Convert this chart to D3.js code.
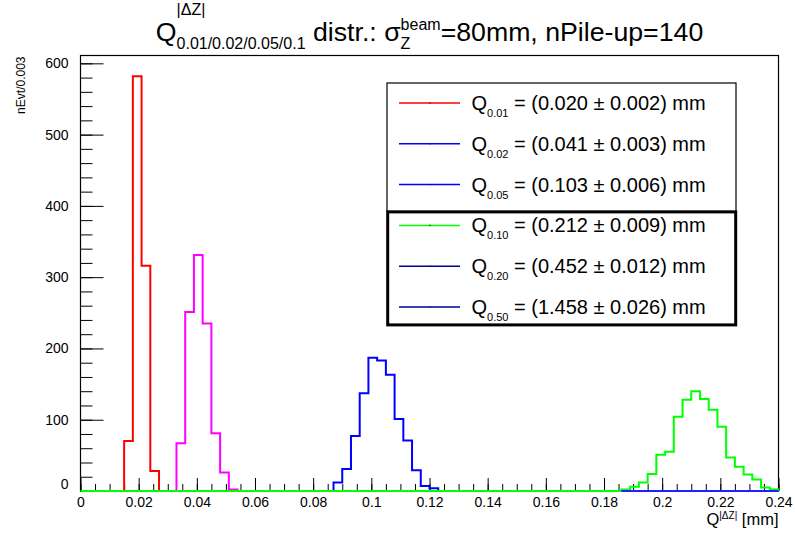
<!DOCTYPE html>
<html>
<head>
<meta charset="utf-8">
<script src="https://cdn.jsdelivr.net/npm/d3@7/dist/d3.min.js"></script>
<style>
  html, body { margin: 0; padding: 0; background: #fff; }
  svg { display: block; font-family: "Liberation Sans", Arial, Helvetica, sans-serif; }
  text { white-space: pre; }
</style>
</head>
<body>
<svg id="chart" width="795" height="534"></svg>
<script>
// ---- data: per-event quantile histograms, bin width 0.003 mm ----
const binWidth = 0.003;
const seriesNames = ["Q0.01", "Q0.02", "Q0.05", "Q0.10"];
const binStarts = [0.015, 0.033, 0.087, 0.186];
const countsQ001 = [70, 582, 316, 28];
const countsQ002 = [67, 251, 331, 235, 81, 26, 2];
const countsQ005 = [12, 31, 77, 137, 187, 183, 163, 101, 71, 29, 7, 4];
const countsQ010 = [2, 6, 12, 24, 51, 55, 104, 128, 140, 129, 114, 90, 47, 34, 23, 16, 5, 2];
const seriesCounts = [countsQ001, countsQ002, countsQ005, countsQ010];

// legend: fitted quantile values
const legendQuantiles = ["0.01", "0.02", "0.05", "0.10", "0.20", "0.50"];
const legendValues = ["0.020", "0.041", "0.103", "0.212", "0.452", "1.458"];
const legendErrors = ["0.002", "0.003", "0.006", "0.009", "0.012", "0.026"];

// axes
const xTickLabels = ["0", "0.02", "0.04", "0.06", "0.08", "0.1", "0.12", "0.14", "0.16", "0.18", "0.2", "0.22", "0.24"];
const yTickLabels = ["0", "100", "200", "300", "400", "500", "600"];
const xMinorStep = 0.005;
const yMinorStep = 20;
const xDomain = [0, 0.24];
const yDomain = [0, 611];

// ---- styles ----
const histColors = ["#ff0000", "#ff00ff", "#0000ff", "#00ff00"];
const legendColors = ["#ff0000", "#0000ff", "#0000ff", "#00ff00", "#000099", "#000099"];
const wideBaselineColor = "#1f1fff";

const svg = d3.select("#chart");
const frame = { left: 80.5, right: 778.5, top: 55.5, bottom: 491 };

const x = d3.scaleLinear().domain(xDomain).range([frame.left, frame.right]);
const y = d3.scaleLinear().domain(yDomain).range([frame.bottom, frame.top]);

// lays out text with stacked super/subscripts; returns group and total width
function richText(parent, items, size) {
  const g = parent.append("g");
  let cx = 0;
  items.forEach(it => {
    if (it.t !== undefined) {
      const el = g.append("text").attr("x", cx).attr("y", 0)
        .attr("font-size", size).attr("xml:space", "preserve").text(it.t);
      cx += el.node().getComputedTextLength();
    } else {
      let w = 0;
      if (it.sup !== undefined) {
        const e = g.append("text").attr("x", cx).attr("y", it.supDy)
          .attr("font-size", it.size).text(it.sup);
        w = Math.max(w, e.node().getComputedTextLength());
      }
      if (it.sub !== undefined) {
        const e = g.append("text").attr("x", cx).attr("y", it.subDy)
          .attr("font-size", it.size).text(it.sub);
        w = Math.max(w, e.node().getComputedTextLength());
      }
      cx += w;
    }
  });
  return { g, width: cx };
}

// ---- axes ----
const xMinor = d3.range(0, Math.round((xDomain[1] - xDomain[0]) / xMinorStep) + 1).map(i => xDomain[0] + i * xMinorStep);
const yMinor = d3.range(0, Math.floor(600 / yMinorStep) + 1).map(i => i * yMinorStep);

const gxMinor = svg.append("g").attr("transform", `translate(0,${frame.bottom})`)
  .call(d3.axisBottom(x).tickValues(xMinor).tickSize(-7).tickFormat(""));
const gx = svg.append("g").attr("transform", `translate(0,${frame.bottom})`)
  .call(d3.axisBottom(x).tickValues(xTickLabels.map(Number)).tickSize(-13).tickPadding(6)
    .tickFormat((d, i) => xTickLabels[i]));
const gyMinor = svg.append("g").attr("transform", `translate(${frame.left},0)`)
  .call(d3.axisLeft(y).tickValues(yMinor).tickSize(-12).tickFormat(""));
const gy = svg.append("g").attr("transform", `translate(${frame.left},0)`)
  .call(d3.axisLeft(y).tickValues(yTickLabels.map(Number)).tickSize(-23).tickPadding(12)
    .tickFormat((d, i) => yTickLabels[i]));

[gxMinor, gx, gyMinor, gy].forEach(g => {
  g.select(".domain").remove();
  g.selectAll("line").attr("stroke", "#000").attr("stroke-width", 1);
  g.selectAll("text").attr("font-size", 14).attr("fill", "#000")
    .style("font-family", "'Liberation Sans', Arial, sans-serif");
});
// the zero label on the y axis sits slightly above its tick
gy.selectAll(".tick").filter(d => d === 0).select("text").attr("y", -7);

// frame
svg.append("rect")
  .attr("x", frame.left).attr("y", frame.top)
  .attr("width", frame.right - frame.left).attr("height", frame.bottom - frame.top)
  .attr("fill", "none").attr("stroke", "#000").attr("stroke-width", 1.2);

// ---- histograms ----
const line = d3.line().x(d => x(d.x)).y(d => y(d.c)).curve(d3.curveStepAfter);

seriesCounts.forEach((counts, s) => {
  const b0 = binStarts[s];
  const pts = [];
  // the last-drawn histogram also traces its empty bins along the baseline
  if (s === seriesCounts.length - 1) pts.push({ x: xDomain[0], c: 0 });
  pts.push({ x: b0, c: 0 });
  counts.forEach((c, i) => pts.push({ x: b0 + i * binWidth, c }));
  pts.push({ x: b0 + counts.length * binWidth, c: 0 });
  svg.append("path")
    .attr("class", "hist " + seriesNames[s])
    .attr("d", line(pts))
    .attr("fill", "none")
    .attr("stroke", histColors[s])
    .attr("stroke-width", 2);
});

// off-scale quantiles (Q0.20, Q0.50) only leave their empty baseline in range
svg.append("path")
  .attr("d", line([{ x: binStarts[3], c: 0 }, { x: xDomain[1], c: 0 }]))
  .attr("fill", "none").attr("stroke", wideBaselineColor).attr("stroke-width", 2);

// ---- axis titles ----
svg.append("text")
  .attr("transform", `translate(25,${frame.top + 1}) rotate(-90)`)
  .attr("text-anchor", "end").attr("font-size", 12).text("nEvt/0.003");

const xt = richText(svg, [
  { t: "Q" },
  { sup: "|ΔZ|", size: 10, supDy: -5.5 },
  { t: " [mm]" }
], 16.5);
xt.g.attr("transform", `translate(${frame.right - xt.width},524.5)`);

// ---- title ----
const title = richText(svg, [
  { t: "Q" },
  { sup: "|ΔZ|", sub: "0.01/0.02/0.05/0.1", size: 16, supDy: -26, subDy: 8 },
  { t: " distr.: σ" },
  { sup: "beam", sub: "Z", size: 16, supDy: -11, subDy: 8 },
  { t: "=80mm, nPile-up=140" }
], 26.7);
title.g.attr("transform", `translate(${(frame.left + frame.right) / 2 - title.width / 2},41)`);

// ---- legend ----
const leg = { x0: 387, x1: 736, top: 83, rowH: 40.8 };
svg.append("rect")
  .attr("x", leg.x0).attr("y", leg.top)
  .attr("width", leg.x1 - leg.x0).attr("height", leg.rowH * 3 + 6)
  .attr("fill", "#fff").attr("stroke", "#000").attr("stroke-width", 1.2);

legendQuantiles.forEach((q, i) => {
  const cy = leg.top + 20 + i * leg.rowH;
  svg.append("line")
    .attr("x1", 399).attr("x2", 460).attr("y1", cy).attr("y2", cy)
    .attr("stroke", legendColors[i]).attr("stroke-width", 1.5);
  svg.append("rect").attr("x", 429.5).attr("y", cy - 0.75).attr("width", 1).attr("height", 1.5)
    .attr("fill", "#222");
  const t = richText(svg, [
    { t: "Q" },
    { sub: q, size: 11, subDy: 7 },
    { t: ` = (${legendValues[i]} ± ${legendErrors[i]}) mm` }
  ], 20);
  t.g.attr("transform", `translate(471.5,${cy + 7})`);
});

// the lower half of the legend is boxed with a heavy border
svg.append("rect")
  .attr("x", 387.7).attr("y", leg.top + 3 * leg.rowH + 6.5)
  .attr("width", 348).attr("height", 113)
  .attr("fill", "none").attr("stroke", "#000").attr("stroke-width", 3);
</script>
</body>
</html>
